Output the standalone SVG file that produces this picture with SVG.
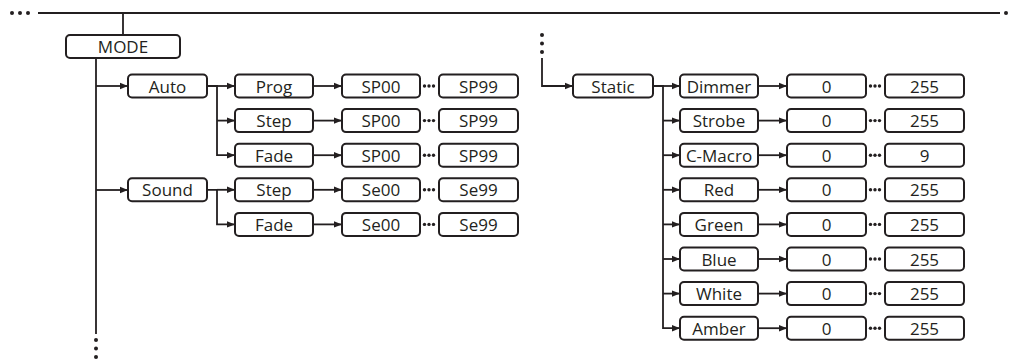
<svg xmlns="http://www.w3.org/2000/svg" width="1013" height="360" viewBox="0 0 1013 360">
<defs>
<style>
.b{fill:#fff;stroke:#231f20;stroke-width:2}
.t{font-family:"Open Sans","Liberation Sans",sans-serif;font-size:17px;font-weight:500;fill:#231f20;text-anchor:middle;dominant-baseline:central}
.c{fill:none;stroke:#231f20;stroke-width:1.8}
.d{fill:#231f20}
</style>
<marker id="ah" viewBox="0 0 8 8" refX="8" refY="4" markerWidth="8" markerHeight="8" markerUnits="userSpaceOnUse" orient="auto">
<path d="M0,0.8 L8,4 L0,7.2 Z" fill="#231f20"/>
</marker>
<g id="dots3"><circle cx="0" cy="0" r="1.7"/><circle cx="4.5" cy="0" r="1.7"/><circle cx="9" cy="0" r="1.7"/></g>
<g id="hdots3"><circle cx="0" cy="0" r="2"/><circle cx="8" cy="0" r="2"/><circle cx="16" cy="0" r="2"/></g>
<g id="vdots3"><circle cx="0" cy="0" r="2"/><circle cx="0" cy="8.5" r="2"/><circle cx="0" cy="17" r="2"/></g>
</defs>

<g id="connectors">
<path class="c" d="M38,13 H1000"/>
<path class="c" d="M123,13 V35"/>
<path class="c" d="M96,58 V334"/>
<path class="c" d="M96,86 H128" marker-end="url(#ah)"/>
<path class="c" d="M96,190 H128" marker-end="url(#ah)"/>
<path class="c" d="M207,86 H217 V155.2 H235" marker-end="url(#ah)"/>
<path class="c" d="M217,86 H235" marker-end="url(#ah)"/>
<path class="c" d="M217,120.6 H235" marker-end="url(#ah)"/>
<path class="c" d="M207,189.8 H217 V224.4 H235" marker-end="url(#ah)"/>
<path class="c" d="M217,189.8 H235" marker-end="url(#ah)"/>
<path class="c" d="M313,86 H342" marker-end="url(#ah)"/>
<path class="c" d="M313,120.6 H342" marker-end="url(#ah)"/>
<path class="c" d="M313,155.2 H342" marker-end="url(#ah)"/>
<path class="c" d="M313,189.8 H342" marker-end="url(#ah)"/>
<path class="c" d="M313,224.4 H342" marker-end="url(#ah)"/>
<path class="c" d="M542,58 V86 H573" marker-end="url(#ah)"/>
<path class="c" d="M653,86 H663 V328.2 H680" marker-end="url(#ah)"/>
<path class="c" d="M663,86 H680" marker-end="url(#ah)"/>
<path class="c" d="M663,120.6 H680" marker-end="url(#ah)"/>
<path class="c" d="M663,155.2 H680" marker-end="url(#ah)"/>
<path class="c" d="M663,189.8 H680" marker-end="url(#ah)"/>
<path class="c" d="M663,224.4 H680" marker-end="url(#ah)"/>
<path class="c" d="M663,259 H680" marker-end="url(#ah)"/>
<path class="c" d="M663,293.6 H680" marker-end="url(#ah)"/>
<path class="c" d="M758,86 H787" marker-end="url(#ah)"/>
<path class="c" d="M758,120.6 H787" marker-end="url(#ah)"/>
<path class="c" d="M758,155.2 H787" marker-end="url(#ah)"/>
<path class="c" d="M758,189.8 H787" marker-end="url(#ah)"/>
<path class="c" d="M758,224.4 H787" marker-end="url(#ah)"/>
<path class="c" d="M758,259 H787" marker-end="url(#ah)"/>
<path class="c" d="M758,293.6 H787" marker-end="url(#ah)"/>
<path class="c" d="M758,328.2 H787" marker-end="url(#ah)"/>
<g class="d">
<use href="#hdots3" x="12" y="13"/>
<circle cx="1006" cy="13" r="2"/>
<use href="#vdots3" x="96" y="340"/>
<use href="#vdots3" x="542" y="35"/>
<use href="#dots3" x="424.5" y="86"/>
<use href="#dots3" x="424.5" y="120.6"/>
<use href="#dots3" x="424.5" y="155.2"/>
<use href="#dots3" x="424.5" y="189.8"/>
<use href="#dots3" x="424.5" y="224.4"/>
<use href="#dots3" x="870.5" y="86"/>
<use href="#dots3" x="870.5" y="120.6"/>
<use href="#dots3" x="870.5" y="155.2"/>
<use href="#dots3" x="870.5" y="189.8"/>
<use href="#dots3" x="870.5" y="224.4"/>
<use href="#dots3" x="870.5" y="259"/>
<use href="#dots3" x="870.5" y="293.6"/>
<use href="#dots3" x="870.5" y="328.2"/>
</g>
</g>

<g id="mode"><rect class="b" x="66" y="35" width="114" height="23" rx="4"/><text class="t" x="123" y="46.5">MODE</text></g>
<g id="auto"><rect class="b" x="128" y="74.5" width="79" height="23" rx="4"/><text class="t" x="167.5" y="86">Auto</text></g>
<g id="sound"><rect class="b" x="128" y="178.3" width="79" height="23" rx="4"/><text class="t" x="167.5" y="189.8">Sound</text></g>

<g id="prog"><rect class="b" x="235" y="74.5" width="78" height="23" rx="4"/><text class="t" x="274" y="86">Prog</text></g>
<g id="auto-step"><rect class="b" x="235" y="109.1" width="78" height="23" rx="4"/><text class="t" x="274" y="120.6">Step</text></g>
<g id="auto-fade"><rect class="b" x="235" y="143.7" width="78" height="23" rx="4"/><text class="t" x="274" y="155.2">Fade</text></g>
<g id="sound-step"><rect class="b" x="235" y="178.3" width="78" height="23" rx="4"/><text class="t" x="274" y="189.8">Step</text></g>
<g id="sound-fade"><rect class="b" x="235" y="212.9" width="78" height="23" rx="4"/><text class="t" x="274" y="224.4">Fade</text></g>

<g id="prog-min"><rect class="b" x="342" y="74.5" width="78" height="23" rx="4"/><text class="t" x="381" y="86">SP00</text></g>
<g id="prog-max"><rect class="b" x="439" y="74.5" width="79" height="23" rx="4"/><text class="t" x="478.5" y="86">SP99</text></g>
<g id="astep-min"><rect class="b" x="342" y="109.1" width="78" height="23" rx="4"/><text class="t" x="381" y="120.6">SP00</text></g>
<g id="astep-max"><rect class="b" x="439" y="109.1" width="79" height="23" rx="4"/><text class="t" x="478.5" y="120.6">SP99</text></g>
<g id="afade-min"><rect class="b" x="342" y="143.7" width="78" height="23" rx="4"/><text class="t" x="381" y="155.2">SP00</text></g>
<g id="afade-max"><rect class="b" x="439" y="143.7" width="79" height="23" rx="4"/><text class="t" x="478.5" y="155.2">SP99</text></g>
<g id="sstep-min"><rect class="b" x="342" y="178.3" width="78" height="23" rx="4"/><text class="t" x="381" y="189.8">Se00</text></g>
<g id="sstep-max"><rect class="b" x="439" y="178.3" width="79" height="23" rx="4"/><text class="t" x="478.5" y="189.8">Se99</text></g>
<g id="sfade-min"><rect class="b" x="342" y="212.9" width="78" height="23" rx="4"/><text class="t" x="381" y="224.4">Se00</text></g>
<g id="sfade-max"><rect class="b" x="439" y="212.9" width="79" height="23" rx="4"/><text class="t" x="478.5" y="224.4">Se99</text></g>

<g id="static"><rect class="b" x="573" y="74.5" width="80" height="23" rx="4"/><text class="t" x="613" y="86">Static</text></g>

<g id="dimmer"><rect class="b" x="680" y="74.5" width="78" height="23" rx="4"/><text class="t" x="719" y="86">Dimmer</text></g>
<g id="strobe"><rect class="b" x="680" y="109.1" width="78" height="23" rx="4"/><text class="t" x="719" y="120.6">Strobe</text></g>
<g id="cmacro"><rect class="b" x="680" y="143.7" width="78" height="23" rx="4"/><text class="t" x="719" y="155.2">C-Macro</text></g>
<g id="red"><rect class="b" x="680" y="178.3" width="78" height="23" rx="4"/><text class="t" x="719" y="189.8">Red</text></g>
<g id="green"><rect class="b" x="680" y="212.9" width="78" height="23" rx="4"/><text class="t" x="719" y="224.4">Green</text></g>
<g id="blue"><rect class="b" x="680" y="247.5" width="78" height="23" rx="4"/><text class="t" x="719" y="259">Blue</text></g>
<g id="white"><rect class="b" x="680" y="282.1" width="78" height="23" rx="4"/><text class="t" x="719" y="293.6">White</text></g>
<g id="amber"><rect class="b" x="680" y="316.7" width="78" height="23" rx="4"/><text class="t" x="719" y="328.2">Amber</text></g>

<g id="dimmer-min"><rect class="b" x="787" y="74.5" width="79" height="23" rx="4"/><text class="t" x="826.5" y="86">0</text></g>
<g id="dimmer-max"><rect class="b" x="885" y="74.5" width="79" height="23" rx="4"/><text class="t" x="924.5" y="86">255</text></g>
<g id="strobe-min"><rect class="b" x="787" y="109.1" width="79" height="23" rx="4"/><text class="t" x="826.5" y="120.6">0</text></g>
<g id="strobe-max"><rect class="b" x="885" y="109.1" width="79" height="23" rx="4"/><text class="t" x="924.5" y="120.6">255</text></g>
<g id="cmacro-min"><rect class="b" x="787" y="143.7" width="79" height="23" rx="4"/><text class="t" x="826.5" y="155.2">0</text></g>
<g id="cmacro-max"><rect class="b" x="885" y="143.7" width="79" height="23" rx="4"/><text class="t" x="924.5" y="155.2">9</text></g>
<g id="red-min"><rect class="b" x="787" y="178.3" width="79" height="23" rx="4"/><text class="t" x="826.5" y="189.8">0</text></g>
<g id="red-max"><rect class="b" x="885" y="178.3" width="79" height="23" rx="4"/><text class="t" x="924.5" y="189.8">255</text></g>
<g id="green-min"><rect class="b" x="787" y="212.9" width="79" height="23" rx="4"/><text class="t" x="826.5" y="224.4">0</text></g>
<g id="green-max"><rect class="b" x="885" y="212.9" width="79" height="23" rx="4"/><text class="t" x="924.5" y="224.4">255</text></g>
<g id="blue-min"><rect class="b" x="787" y="247.5" width="79" height="23" rx="4"/><text class="t" x="826.5" y="259">0</text></g>
<g id="blue-max"><rect class="b" x="885" y="247.5" width="79" height="23" rx="4"/><text class="t" x="924.5" y="259">255</text></g>
<g id="white-min"><rect class="b" x="787" y="282.1" width="79" height="23" rx="4"/><text class="t" x="826.5" y="293.6">0</text></g>
<g id="white-max"><rect class="b" x="885" y="282.1" width="79" height="23" rx="4"/><text class="t" x="924.5" y="293.6">255</text></g>
<g id="amber-min"><rect class="b" x="787" y="316.7" width="79" height="23" rx="4"/><text class="t" x="826.5" y="328.2">0</text></g>
<g id="amber-max"><rect class="b" x="885" y="316.7" width="79" height="23" rx="4"/><text class="t" x="924.5" y="328.2">255</text></g>
</svg>
